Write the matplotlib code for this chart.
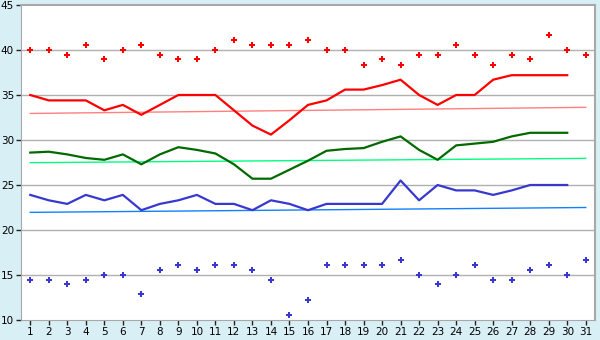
import matplotlib
matplotlib.use('Agg')
import matplotlib.pyplot as plt

# Days of the month
days = list(range(1, 32))
line_days = list(range(1, 31))

# Upper scattered points (red)
red_points = [40.0, 40.0, 39.4, 40.6, 39.0, 40.0, 40.6, 39.4, 39.0, 39.0,
              40.0, 41.1, 40.6, 40.6, 40.6, 41.1, 40.0, 40.0, 38.3, 39.0,
              38.3, 39.4, 39.4, 40.6, 39.4, 38.3, 39.4, 39.0, 41.7, 40.0, 39.4]

# Red line
red_line = [35.0, 34.4, 34.4, 34.4, 33.3, 33.9, 32.8, 33.9, 35.0, 35.0,
            35.0, 33.3, 31.6, 30.6, 32.2, 33.9, 34.4, 35.6, 35.6, 36.1,
            36.7, 35.0, 33.9, 35.0, 35.0, 36.7, 37.2, 37.2, 37.2, 37.2]

# Green line
green_line = [28.6, 28.7, 28.4, 28.0, 27.8, 28.4, 27.3, 28.4, 29.2, 28.9,
              28.5, 27.3, 25.7, 25.7, 26.7, 27.7, 28.8, 29.0, 29.1, 29.8,
              30.4, 28.9, 27.8, 29.4, 29.6, 29.8, 30.4, 30.8, 30.8, 30.8]

# Blue line
blue_line = [23.9, 23.3, 22.9, 23.9, 23.3, 23.9, 22.2, 22.9, 23.3, 23.9,
             22.9, 22.9, 22.2, 23.3, 22.9, 22.2, 22.9, 22.9, 22.9, 22.9,
             25.5, 23.3, 25.0, 24.4, 24.4, 23.9, 24.4, 25.0, 25.0, 25.0]

# Lower scattered points (blue)
blue_points = [14.4, 14.4, 14.0, 14.4, 15.0, 15.0, 12.9, 15.6, 16.1, 15.6,
               16.1, 16.1, 15.6, 14.4, 10.6, 12.2, 16.1, 16.1, 16.1, 16.1,
               16.7, 15.0, 14.0, 15.0, 16.1, 14.4, 14.4, 15.6, 16.1, 15.0, 16.7]

# Trend lines (start and end values, day 1 and day 31)
trend_days = [1, 31]
red_trend = [32.95, 33.63]
green_trend = [27.48, 27.96]
blue_trend = [21.96, 22.5]

bg = '#d9eff6'
fig = plt.figure(figsize=(6, 3.4), dpi=100, facecolor=bg)
ax = fig.add_axes([21 / 600, 20 / 340, 574 / 600, 315 / 340])
ax.set_facecolor('white')

for y in range(15, 45, 5):
    ax.axhline(y, color='#b0b0b0', lw=1, zorder=0)

ax.plot(trend_days, red_trend, color='#ff8080', lw=1)
ax.plot(trend_days, green_trend, color='#00ff80', lw=1)
ax.plot(trend_days, blue_trend, color='#1080ff', lw=1)

ax.plot(line_days, red_line, color='#ff0000', lw=1.6)
ax.plot(line_days, green_line, color='#006a00', lw=1.6)
ax.plot(line_days, blue_line, color='#3838d0', lw=1.6)

ax.plot(days, red_points, ls='none', marker='P', ms=4, color='#ff0000', mew=0)
ax.plot(days, blue_points, ls='none', marker='P', ms=4, color='#3838d0', mew=0)

ax.set_xlim(0.5, 31.5)
ax.set_ylim(10, 45)
ax.set_xticks(days)
ax.set_yticks(range(10, 50, 5))
ax.tick_params(labelsize=7.5, length=3.5, width=1, color='#222222', pad=1.5)

for side in ['top', 'right']:
    ax.spines[side].set_color('#a8a8a8')
    ax.spines[side].set_linewidth(1.5)
ax.spines['left'].set_color('#a8a8a8')
ax.spines['bottom'].set_color('#a8a8a8')

fig.savefig('out.png', dpi=100, facecolor=bg)
